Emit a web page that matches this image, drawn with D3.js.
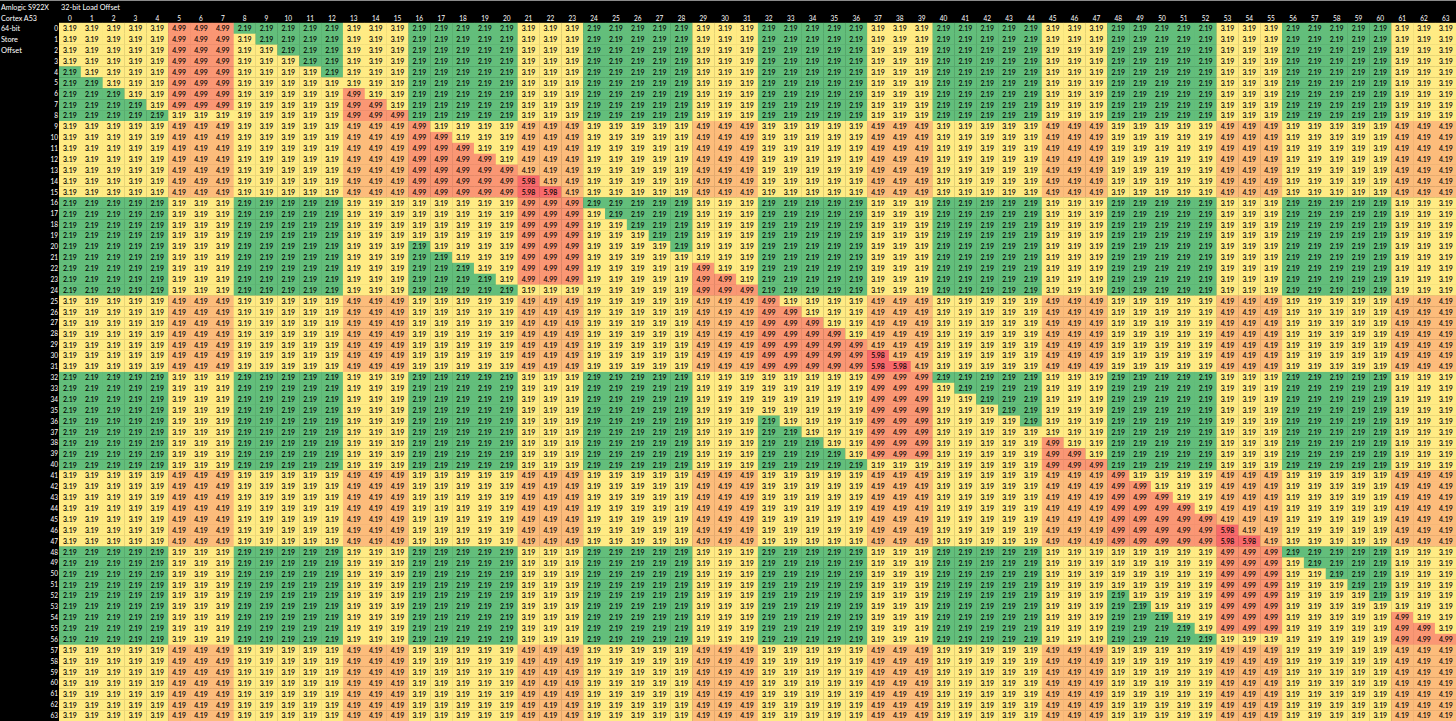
<!DOCTYPE html>
<html>
<head>
<meta charset="utf-8">
<script src="https://cdn.jsdelivr.net/npm/d3@7/dist/d3.min.js"></script>
<style>
html,body{margin:0;padding:0;background:#000;overflow:hidden}
svg{display:block}
text{font-family:Lato,"Open Sans",sans-serif}
</style>
</head>
<body>
<svg id="chart" width="1456" height="721"></svg>
<script>
const title = "Amlogic S922X";
const columnTitle = "32-bit Load Offset";
const sideLabels = ["Cortex A53", "64-bit", "Store", "Offset"];
const sideWidths = [36, 19, 17, 21];
const levels = [2.19, 3.19, 4.19, 4.99, 5.98];
const levelText = ["2.19", "3.19", "4.19", "4.99", "5.98"];
const colorStops = [2.19, 3.19, 5.98];
const colorRange = ["#63BE7B", "#FFEB84", "#F8696B"];
// One string per store offset (0-63); each digit is an index in levels, one per load offset (0-63).
const rows = [
"11111333 00000111 00000111 00000111 00000111 00000111 00000111 00000111",
"11111333 10000111 00000111 00000111 00000111 00000111 00000111 00000111",
"11111333 11000111 00000111 00000111 00000111 00000111 00000111 00000111",
"11111333 11100111 00000111 00000111 00000111 00000111 00000111 00000111",
"01111333 11110111 00000111 00000111 00000111 00000111 00000111 00000111",
"00111333 11111111 00000111 00000111 00000111 00000111 00000111 00000111",
"00011333 11111311 00000111 00000111 00000111 00000111 00000111 00000111",
"00001333 11111331 00000111 00000111 00000111 00000111 00000111 00000111",
"00000111 11111333 00000111 00000111 00000111 00000111 00000111 00000111",
"11111222 11111222 31111222 11111222 11111222 11111222 11111222 11111222",
"11111222 11111222 33111222 11111222 11111222 11111222 11111222 11111222",
"11111222 11111222 33311222 11111222 11111222 11111222 11111222 11111222",
"11111222 11111222 33331222 11111222 11111222 11111222 11111222 11111222",
"11111222 11111222 33333222 11111222 11111222 11111222 11111222 11111222",
"11111222 11111222 33333422 11111222 11111222 11111222 11111222 11111222",
"11111222 11111222 33333442 11111222 11111222 11111222 11111222 11111222",
"00000111 00000111 11111333 00000111 00000111 00000111 00000111 00000111",
"00000111 00000111 11111333 10000111 00000111 00000111 00000111 00000111",
"00000111 00000111 11111333 11000111 00000111 00000111 00000111 00000111",
"00000111 00000111 11111333 11100111 00000111 00000111 00000111 00000111",
"00000111 00000111 01111333 11110111 00000111 00000111 00000111 00000111",
"00000111 00000111 00111333 11111111 00000111 00000111 00000111 00000111",
"00000111 00000111 00011333 11111311 00000111 00000111 00000111 00000111",
"00000111 00000111 00001333 11111331 00000111 00000111 00000111 00000111",
"00000111 00000111 00000111 11111333 00000111 00000111 00000111 00000111",
"11111222 11111222 11111222 11111222 31111222 11111222 11111222 11111222",
"11111222 11111222 11111222 11111222 33111222 11111222 11111222 11111222",
"11111222 11111222 11111222 11111222 33311222 11111222 11111222 11111222",
"11111222 11111222 11111222 11111222 33331222 11111222 11111222 11111222",
"11111222 11111222 11111222 11111222 33333222 11111222 11111222 11111222",
"11111222 11111222 11111222 11111222 33333422 11111222 11111222 11111222",
"11111222 11111222 11111222 11111222 33333442 11111222 11111222 11111222",
"00000111 00000111 00000111 00000111 11111333 00000111 00000111 00000111",
"00000111 00000111 00000111 00000111 11111333 10000111 00000111 00000111",
"00000111 00000111 00000111 00000111 11111333 11000111 00000111 00000111",
"00000111 00000111 00000111 00000111 11111333 11100111 00000111 00000111",
"00000111 00000111 00000111 00000111 01111333 11110111 00000111 00000111",
"00000111 00000111 00000111 00000111 00111333 11111111 00000111 00000111",
"00000111 00000111 00000111 00000111 00011333 11111311 00000111 00000111",
"00000111 00000111 00000111 00000111 00001333 11111331 00000111 00000111",
"00000111 00000111 00000111 00000111 00000111 11111333 00000111 00000111",
"11111222 11111222 11111222 11111222 11111222 11111222 31111222 11111222",
"11111222 11111222 11111222 11111222 11111222 11111222 33111222 11111222",
"11111222 11111222 11111222 11111222 11111222 11111222 33311222 11111222",
"11111222 11111222 11111222 11111222 11111222 11111222 33331222 11111222",
"11111222 11111222 11111222 11111222 11111222 11111222 33333222 11111222",
"11111222 11111222 11111222 11111222 11111222 11111222 33333422 11111222",
"11111222 11111222 11111222 11111222 11111222 11111222 33333442 11111222",
"00000111 00000111 00000111 00000111 00000111 00000111 11111333 00000111",
"00000111 00000111 00000111 00000111 00000111 00000111 11111333 10000111",
"00000111 00000111 00000111 00000111 00000111 00000111 11111333 11000111",
"00000111 00000111 00000111 00000111 00000111 00000111 11111333 11100111",
"00000111 00000111 00000111 00000111 00000111 00000111 01111333 11110111",
"00000111 00000111 00000111 00000111 00000111 00000111 00111333 11111111",
"00000111 00000111 00000111 00000111 00000111 00000111 00011333 11111311",
"00000111 00000111 00000111 00000111 00000111 00000111 00001333 11111331",
"00000111 00000111 00000111 00000111 00000111 00000111 00000111 11111333",
"11111222 11111222 11111222 11111222 11111222 11111222 11111222 11111222",
"11111222 11111222 11111222 11111222 11111222 11111222 11111222 11111222",
"11111222 11111222 11111222 11111222 11111222 11111222 11111222 11111222",
"11111222 11111222 11111222 11111222 11111222 11111222 11111222 11111222",
"11111222 11111222 11111222 11111222 11111222 11111222 11111222 11111222",
"11111222 11111222 11111222 11111222 11111222 11111222 11111222 11111222",
"11111222 11111222 11111222 11111222 11111222 11111222 11111222 11111222"
];

const W = 1456, H = 721;
const left = 59, top_ = 22.8;
const fontSize = 8;
const matrix = rows.map(r => Array.from(r.replace(/ /g, ""), Number));
const loadOffsets = d3.range(matrix[0].length);
const storeOffsets = d3.range(matrix.length);

const x = d3.scaleBand().domain(loadOffsets).range([left, left + 21.84 * 64]);
const y = d3.scaleBand().domain(storeOffsets).range([top_, top_ + 10.91 * 64]);
const color = d3.scaleLinear().domain(colorStops).range(colorRange);

const svg = d3.select("#chart");
svg.append("rect").attr("width", W).attr("height", H).attr("fill", "#000");
svg.append("rect").attr("width", W).attr("height", 1).attr("fill", "#8a8a8a");

const cells = [];
matrix.forEach((row, r) => row.forEach((lv, c) => cells.push({r, c, lv})));

svg.append("g").selectAll("rect").data(cells).join("rect")
  .attr("x", d => x(d.c)).attr("y", d => y(d.r))
  .attr("width", x.bandwidth() + 0.3).attr("height", y.bandwidth() + 0.3)
  .attr("fill", d => color(levels[d.lv]));

svg.append("g").attr("font-size", fontSize).attr("fill", "#000").attr("stroke", "#000").attr("stroke-width", 0.12).attr("text-anchor", "middle")
  .selectAll("text").data(cells).join("text")
  .attr("x", d => x(d.c) + x.bandwidth() / 2)
  .attr("y", d => y(d.r) + y.bandwidth() / 2 + 2.9)
  .attr("textLength", 13.6).attr("lengthAdjust", "spacingAndGlyphs")
  .text(d => levelText[d.lv]);

const xAxis = d3.axisTop(x).tickSize(0).tickPadding(0);
const yAxis = d3.axisLeft(y).tickSize(0).tickPadding(1);
const gx = svg.append("g").attr("transform", `translate(0,${top_ - 2.3})`).call(xAxis);
const gy = svg.append("g").attr("transform", `translate(${left},0)`).call(yAxis);
[gx, gy].forEach(g => {
  g.select(".domain").remove();
  g.selectAll("text")
    .attr("fill", "#fff").attr("font-size", fontSize).attr("font-family", 'Lato,"Open Sans",sans-serif')
    .attr("lengthAdjust", "spacingAndGlyphs")
    .attr("textLength", d => String(d).length * 3.75);
});
gx.selectAll("text").attr("dy", 0);
gy.selectAll("text").attr("dy", "0.33em");

const labels = svg.append("g").attr("fill", "#fff").attr("font-size", fontSize);
labels.append("text").attr("x", 1).attr("y", 9.6).attr("textLength", 48).attr("lengthAdjust", "spacingAndGlyphs").text(title);
labels.append("text").attr("x", 61).attr("y", 9.6).attr("textLength", 59).attr("lengthAdjust", "spacingAndGlyphs").text(columnTitle);
labels.selectAll("text.side").data(sideLabels).join("text").attr("class", "side")
  .attr("x", 1).attr("y", (d, i) => 20.5 + i * y.step())
  .attr("textLength", (d, i) => sideWidths[i]).attr("lengthAdjust", "spacingAndGlyphs")
  .text(d => d);
</script>
</body>
</html>
